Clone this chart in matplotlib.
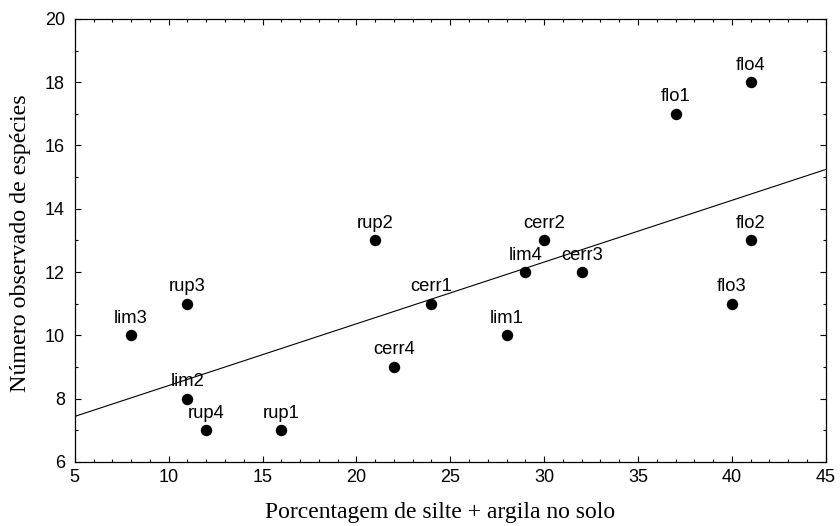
import numpy as np
import matplotlib.pyplot as plt
from matplotlib.ticker import MultipleLocator

# percentagem de silte + argila e número de espécies por parcela
parcelas = ['lim3', 'rup3', 'lim2', 'rup4', 'rup1', 'rup2', 'cerr4', 'cerr1',
            'lim1', 'lim4', 'cerr2', 'cerr3', 'flo1', 'flo3', 'flo4', 'flo2']
silte_argila = [8, 11, 11, 12, 16, 21, 22, 24, 28, 29, 30, 32, 37, 40, 41, 41]
especies = [10, 11, 8, 7, 7, 13, 9, 11, 10, 12, 13, 12, 17, 11, 18, 13]

x = np.array(silte_argila, dtype=float)
y = np.array(especies, dtype=float)
coef = np.polyfit(x, y, 1)

fig, ax = plt.subplots(figsize=(8.4, 5.26), dpi=100)
plt.subplots_adjust(left=0.089, right=0.983, bottom=0.122, top=0.964)

xl = np.array([5, 45])
ax.plot(xl, np.polyval(coef, xl), color='black', lw=0.8)
ax.scatter(x, y, s=52, color='black', zorder=3)

for nome, xi, yi in zip(parcelas, x, y):
    ax.annotate(nome, (xi, yi), xytext=(0, 9), textcoords='offset points',
                ha='center', va='baseline', fontsize=13.2,
                family='Liberation Sans')

ax.set_xlim(5, 45)
ax.set_ylim(6, 20)
ax.xaxis.set_major_locator(MultipleLocator(5))
ax.xaxis.set_minor_locator(MultipleLocator(1))
ax.yaxis.set_major_locator(MultipleLocator(2))
ax.yaxis.set_minor_locator(MultipleLocator(1))
ax.tick_params(which='both', direction='in', top=True, right=True,
               labelsize=13, width=0.8)
ax.tick_params(which='major', length=4)
ax.tick_params(axis='x', which='major', pad=5.5)
ax.tick_params(axis='y', which='major', pad=7)
ax.tick_params(which='minor', length=2.5)
for lbl in ax.get_xticklabels() + ax.get_yticklabels():
    lbl.set_family('Liberation Sans')
for s in ax.spines.values():
    s.set_linewidth(0.9)

ax.set_xlabel('Porcentagem de silte + argila no solo', family='Liberation Serif',
              fontsize=17)
ax.set_ylabel('Número observado de espécies', family='Liberation Serif',
              fontsize=17.3)
ax.xaxis.set_label_coords(0.487, -0.09)
ax.yaxis.set_label_coords(-0.058, 0.493)

plt.savefig('out.png', dpi=100)
